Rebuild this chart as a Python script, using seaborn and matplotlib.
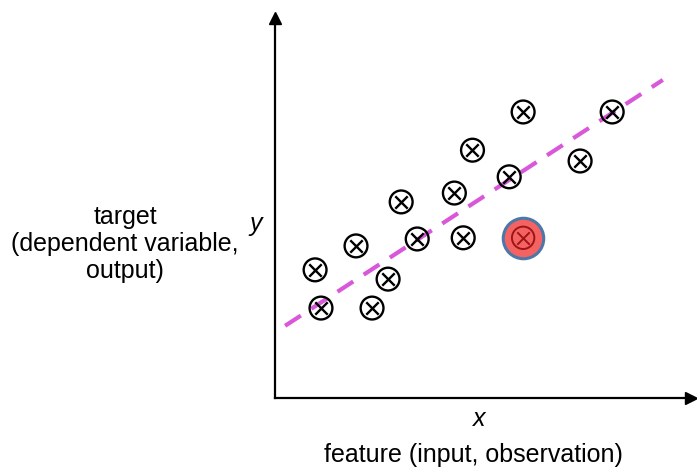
import matplotlib
matplotlib.use("Agg")
import matplotlib.pyplot as plt
import seaborn as sns
import pandas as pd

x_obs = [0.95, 1.09, 1.92, 2.30, 2.68, 2.99, 3.37, 4.25, 4.46, 4.68, 5.55, 5.88, 7.23, 7.99]
y_obs = [3.32, 2.33, 3.94, 2.33, 3.08, 5.08, 4.12, 5.31, 4.15, 6.42, 5.73, 7.41, 6.14, 7.41]

# highlighted point
x_hi = [5.88]
y_hi = [4.15]

# fitted line end points
x_fit = [0.24, 9.19]
y_fit = [1.87, 8.24]

sns.set_theme(style="white")
plt.rcParams['font.family'] = ['Liberation Sans', 'DejaVu Sans']
plt.rcParams['text.color'] = 'black'

W, H = 697, 468
L, R, B, T = 275, 691, 398, 18
fig = plt.figure(figsize=(W / 100, H / 100), dpi=100)
ax = fig.add_axes([L / W, (H - B) / H, (R - L) / W, (B - T) / H])

# keep the data mapping to pixels the same as the reference (0..10 over 275..697 / 398..12)
ax.set_xlim(0, 10 * (R - L) / (697 - L))
ax.set_ylim(0, 10 * (B - T) / (398 - 12))

obs = pd.DataFrame({'x': x_obs, 'y': y_obs})
fit = pd.DataFrame({'x': x_fit, 'y': y_fit})
hi = pd.DataFrame({'x': x_hi, 'y': y_hi})

sns.lineplot(data=fit, x='x', y='y', ax=ax, color='#d957d9', lw=3,
             linestyle=(0, (4.5, 3)), zorder=2)

# circled crosses
sns.scatterplot(data=obs, x='x', y='y', ax=ax, marker='o', s=270,
                facecolor='none', edgecolor='black', linewidth=1.7, zorder=3)
sns.scatterplot(data=obs, x='x', y='y', ax=ax, marker='x', s=80,
                color='black', linewidth=1.7, zorder=4)

# outlier
sns.scatterplot(data=hi, x='x', y='y', ax=ax, marker='o', s=850,
                color='#f56262', edgecolor='#4c77a8', linewidth=2.2, zorder=3)
sns.scatterplot(data=hi, x='x', y='y', ax=ax, marker='o', s=260,
                facecolor='none', edgecolor='#9e1515', linewidth=1.4, zorder=4)
sns.scatterplot(data=hi, x='x', y='y', ax=ax, marker='x', s=80,
                color='#9e1515', linewidth=1.4, zorder=5)

ax.set_xticks([])
ax.set_yticks([])
ax.set_xlabel('')
ax.set_ylabel('')
for side in ['top', 'right']:
    ax.spines[side].set_visible(False)
for side in ['left', 'bottom']:
    ax.spines[side].set_color('black')
    ax.spines[side].set_linewidth(1.6)

# arrow heads on the axes
ax.plot(1, 0, '>', color='black', ms=8, transform=ax.transAxes, clip_on=False)
ax.plot(0, 1, '^', color='black', ms=8, transform=ax.transAxes, clip_on=False)

fig.text(479 / W, 1 - 419 / H, 'x', style='italic', fontsize=18,
         ha='center', va='center')
fig.text(256 / W, 1 - 224 / H, 'y', style='italic', fontsize=18,
         ha='center', va='center')
fig.text(473 / W, 1 - 455 / H, 'feature (input, observation)', fontsize=18,
         ha='center', va='center')
fig.text(125 / W, 1 - 244 / H, 'target\n(dependent variable,\noutput)', fontsize=18,
         ha='center', va='center', linespacing=1.15)

fig.savefig('out.png', dpi=100)
